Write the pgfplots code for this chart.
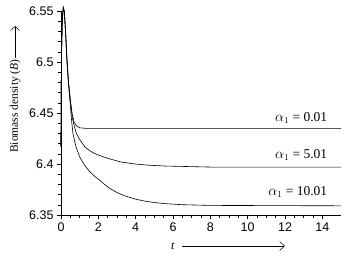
\documentclass[border=0pt]{standalone}
\usepackage{pgfplots}
\pgfplotsset{compat=1.18}
\usepackage{fontspec}
\setmainfont{Liberation Serif}
\newfontfamily\arial{Liberation Sans}
\usetikzlibrary{arrows.meta}
\begin{document}
\begin{tikzpicture}
\useasboundingbox (-61pt,-42pt) rectangle (286pt,215pt);
\begin{axis}[
  scale only axis, width=280pt, height=204pt,
  xmin=0, xmax=15, ymin=6.35, ymax=6.55,
  axis lines=left, axis line style={-, line width=0.6pt},
  xtick={0,2,...,14}, ytick={6.35,6.4,6.45,6.5,6.55},
  minor x tick num=3, minor y tick num=4,
  tick align=outside,
  major tick length=4pt, minor tick length=2.5pt,
  tick style={black, line width=0.5pt},
  /pgf/number format/assume math mode=true,
  yticklabel style={/pgf/number format/fixed, /pgf/number format/precision=2},
  tick label style={font=\arial\fontsize{12.5}{14}\selectfont},
  clip=false,
]
\addplot[black, line width=0.6pt] coordinates {
(0,6.417) (0.01,6.47) (0.03,6.51) (0.07,6.540) (0.12,6.552) (0.18,6.549) (0.25,6.528) (0.32,6.503) (0.4,6.481) (0.5,6.463)
(0.6,6.449) (0.7,6.441) (0.85,6.437) (1.0,6.4355) (1.3,6.435) (15,6.435)};
\addplot[black, line width=0.6pt] coordinates {
(0,6.417) (0.01,6.47) (0.03,6.51) (0.07,6.541) (0.12,6.553) (0.18,6.549) (0.25,6.527) (0.32,6.502) (0.4,6.480) (0.5,6.462)
(0.6,6.446) (0.7,6.438) (0.82,6.430) (1.0,6.424) (1.27,6.417) (1.5,6.4135) (1.72,6.411) (2.0,6.4088) (2.35,6.4065) (2.62,6.405) (3.2,6.402) (3.97,6.400) (4.7,6.3988) (5.6,6.398) (8,6.397) (15,6.397)};
\addplot[black, line width=0.6pt] coordinates {
(0,6.417) (0.01,6.47) (0.03,6.51) (0.07,6.542) (0.12,6.554) (0.18,6.550) (0.25,6.527) (0.32,6.500) (0.4,6.478) (0.5,6.458)
(0.57,6.442) (0.64,6.430) (0.8,6.417) (1.0,6.407) (1.25,6.399) (1.54,6.3925) (1.8,6.388) (2.08,6.384) (2.35,6.3797) (2.62,6.376) (3.0,6.372) (3.43,6.3687) (4.0,6.3655) (4.5,6.3636) (5.0,6.3622) (5.6,6.3611) (6.5,6.3601) (8,6.3594) (15,6.359)};
\node[anchor=east, font=\fontsize{13.5}{15}\selectfont] at (axis cs:14.45,6.4455) {$\alpha_1$ = 0.01};
\node[anchor=east, font=\fontsize{13.5}{15}\selectfont] at (axis cs:14.45,6.4085) {$\alpha_1$ = 5.01};
\node[anchor=east, font=\fontsize{13.5}{15}\selectfont] at (axis cs:14.45,6.3725) {$\alpha_1$ = 10.01};
\node[rotate=90, anchor=center, font=\fontsize{11.5}{13}\selectfont] at (rel axis cs:-0.164,0.534)
  {Biomass density (\textit{B})};
\draw[-{Straight Barb[length=4pt,width=9pt]}, line width=0.5pt] (rel axis cs:-0.164,0.77) -- (rel axis cs:-0.164,0.926);
\node[anchor=center, font=\fontsize{12}{13}\selectfont] at (rel axis cs:0.4,-0.152) {\textit{t}};
\draw[-{Straight Barb[length=5pt,width=9pt]}, line width=0.5pt] (rel axis cs:0.432,-0.152) -- (rel axis cs:0.8,-0.152);
\end{axis}
\end{tikzpicture}
\end{document}
